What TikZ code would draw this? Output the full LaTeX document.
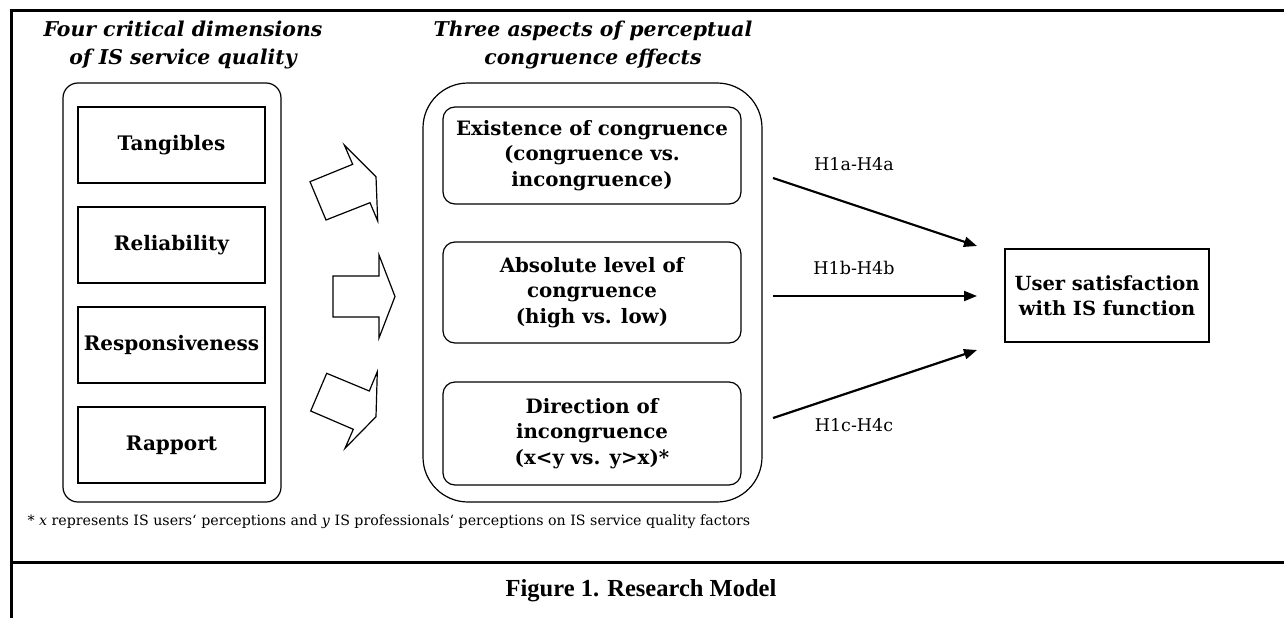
\documentclass[tikz,border=0pt]{standalone}
\usepackage{fontspec}
\setmainfont{DejaVu Serif}
\newfontfamily\capfont{Liberation Serif}
\usetikzlibrary{arrows.meta}
\begin{document}
\begin{tikzpicture}[x=1pt,y=-1pt,
  frameline/.style={line width=3pt},
  outerbox/.style={draw,line width=1.2pt,rounded corners=#1},
  dimbox/.style={draw,line width=1.2pt,minimum width=187pt,minimum height=76pt,
    font=\bfseries\fontsize{20}{24}\selectfont},
  aspbox/.style={draw,line width=1.2pt,rounded corners=12pt,minimum width=298pt,align=center,
    font=\bfseries\fontsize{19.8}{25.5}\selectfont},
  titletext/.style={align=center,font=\bfseries\itshape\fontsize{20.4}{28}\selectfont},
  hyp/.style={font=\fontsize{17.5}{22}\selectfont},
  hyparrow/.style={line width=2.2pt,-{Triangle[length=13pt,width=10pt]}},
  blockarrow/.style={draw,line width=1.2pt,fill=white,line join=miter}
]
\useasboundingbox (0,0) rectangle (1284,618);
% frame
\draw[frameline] (9.5,11) -- (1284,11);
\draw[frameline] (11,9.5) -- (11,618);
\draw[frameline] (11,562) -- (1284,562);
% titles
\node[titletext] (t1) at (183,45) {Four critical dimensions\\of IS service quality};
\node[titletext] (t2) at (593,45) {Three aspects of perceptual\\congruence effects};
% left container
\node[outerbox=15pt,minimum width=218pt,minimum height=419pt] (lbox) at (172,292.5) {};
\node[dimbox] (tang) at (171.5,145) {Tangibles};
\node[dimbox] (reli) at (171.5,245) {Reliability};
\node[dimbox] (resp) at (171.5,345) {Responsiveness};
\node[dimbox] (rapp) at (171.5,445) {Rapport};
% middle container
\node[outerbox=45pt,minimum width=339pt,minimum height=419pt] (mbox) at (592.5,292.5) {};
\node[aspbox,minimum height=97pt] (exist) at (592,155.5) {Existence of congruence\\(congruence vs.\\incongruence)};
\node[aspbox,minimum height=101pt] (abs) at (592,292.5) {Absolute level of\\congruence\\(high vs. low)};
\node[aspbox,minimum height=103pt] (dir) at (592,433.5) {Direction of\\incongruence\\(x<y vs. y>x)*};
% block arrows
\draw[blockarrow] (310,181.7) -- (352.7,164.3) -- (344.3,145) -- (376,176.7) -- (377.7,221) -- (370,202.7) -- (326,220) -- cycle;
\draw[blockarrow] (333,276) -- (379,276) -- (379,255) -- (395,296.5) -- (379,338) -- (379,317) -- (333,317) -- cycle;
\draw[blockarrow] (326.7,373.3) -- (369.3,391) -- (377.3,371.7) -- (376,416.7) -- (345,448.3) -- (353.3,429.3) -- (310.7,411) -- cycle;
% outcome
\node[draw,line width=1.2pt,minimum width=204pt,minimum height=93pt,align=center,
  font=\bfseries\fontsize{19.5}{25.5}\selectfont] (sat) at (1107,295.5) {User satisfaction\\with IS function};
% hypothesis arrows
\coordinate (a1) at (773,178);
\coordinate (a2) at (773,296);
\coordinate (a3) at (773,418);
\coordinate (b1) at (977,246);
\coordinate (b2) at (977,296);
\coordinate (b3) at (977,350);
\draw[hyparrow] (a1) -- (b1);
\draw[hyparrow] (a2) -- (b2);
\draw[hyparrow] (a3) -- (b3);
\node[hyp] (h1) at (854,164) {H1a-H4a};
\node[hyp] (h2) at (854,268) {H1b-H4b};
\node[hyp] (h3) at (854,425) {H1c-H4c};
% footnote
\node[anchor=west,font=\fontsize{14.2}{17}\selectfont] (fn) at (24,522)
  {* \textit{x} represents IS users‘ perceptions and \textit{y} IS professionals‘ perceptions on IS service quality factors};
% caption
\node[font=\capfont\bfseries\fontsize{24.5}{28}\selectfont] (cap) at (641,591) {Figure 1. Research Model};
\end{tikzpicture}
\end{document}
